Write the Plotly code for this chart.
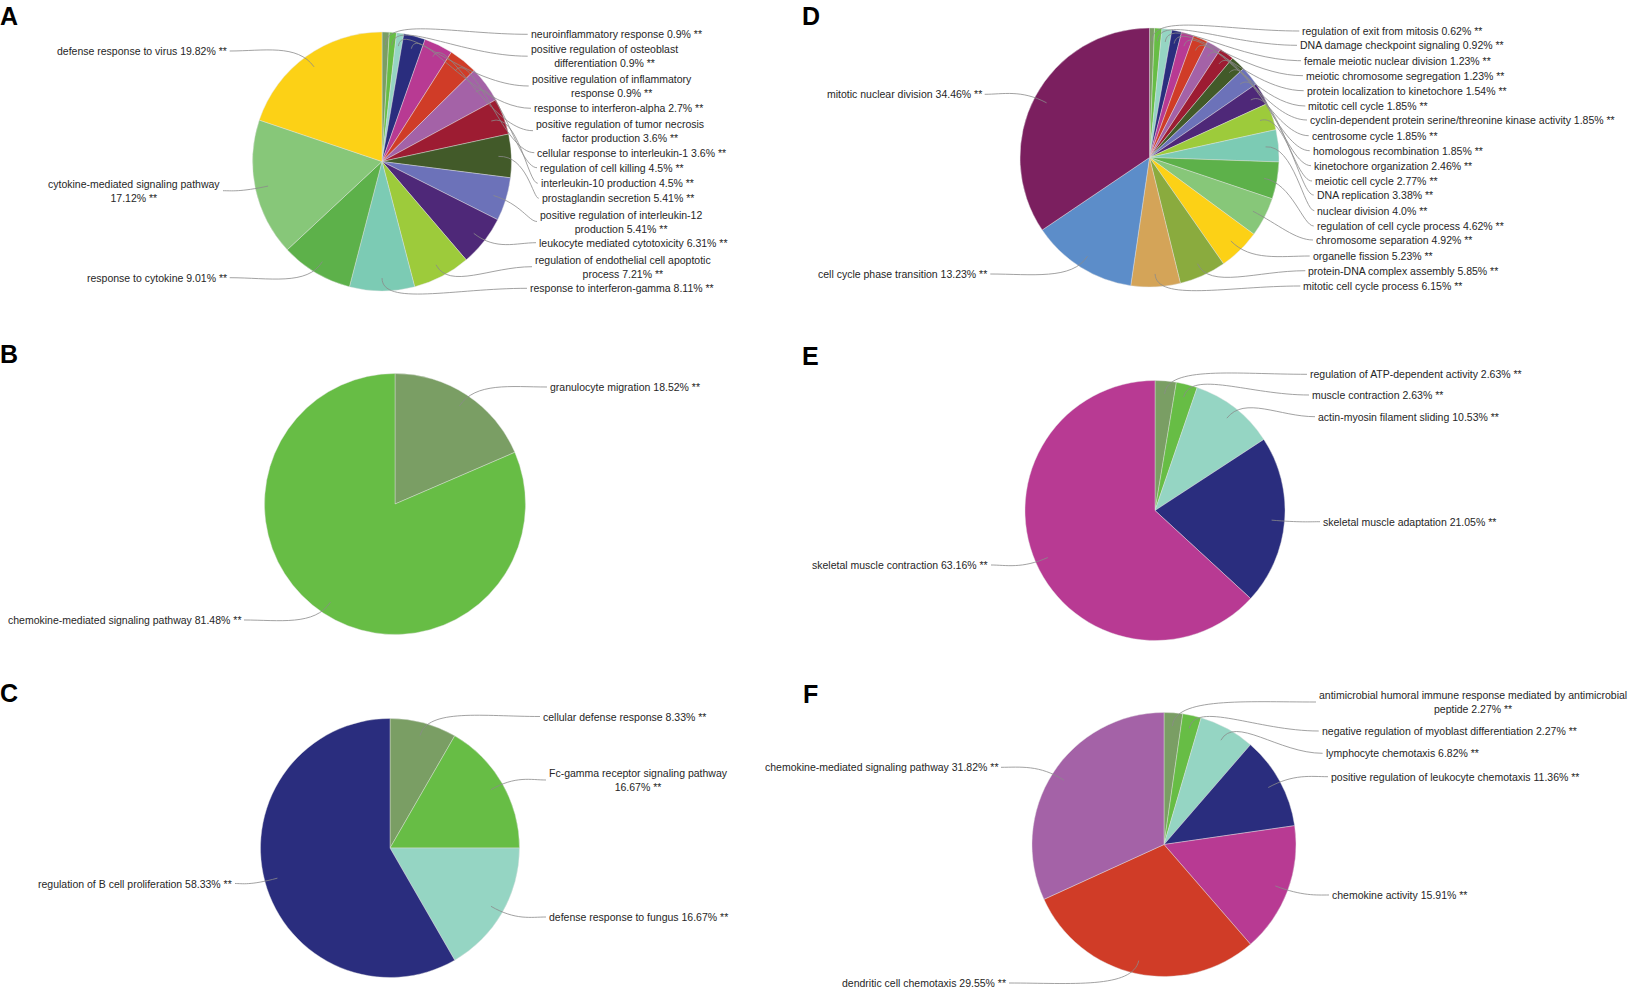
import math
import plotly.graph_objects as go

W, H = 1638, 988

# ---------------- data ----------------
A_terms = ["neuroinflammatory response",
           "positive regulation of osteoblast<br>differentiation",
           "positive regulation of inflammatory<br>response",
           "response to interferon-alpha",
           "positive regulation of tumor necrosis<br>factor production",
           "cellular response to interleukin-1",
           "regulation of cell killing",
           "interleukin-10 production",
           "prostaglandin secretion",
           "positive regulation of interleukin-12<br>production",
           "leukocyte mediated cytotoxicity",
           "regulation of endothelial cell apoptotic<br>process",
           "response to interferon-gamma",
           "response to cytokine",
           "cytokine-mediated signaling pathway<br>",
           "defense response to virus"]
A_pct = [0.9, 0.9, 0.9, 2.7, 3.6, 3.6, 4.5, 4.5, 5.41, 5.41, 6.31, 7.21, 8.11, 9.01, 17.12, 19.82]

B_terms = ["granulocyte migration", "chemokine-mediated signaling pathway"]
B_pct = [18.52, 81.48]

C_terms = ["cellular defense response", "Fc-gamma receptor signaling pathway<br>",
           "defense response to fungus", "regulation of B cell proliferation"]
C_pct = [8.33, 16.67, 16.67, 58.33]

D_terms = ["regulation of exit from mitosis", "DNA damage checkpoint signaling",
           "female meiotic nuclear division", "meiotic chromosome segregation",
           "protein localization to kinetochore", "mitotic cell cycle",
           "cyclin-dependent protein serine/threonine kinase activity", "centrosome cycle",
           "homologous recombination", "kinetochore organization", "meiotic cell cycle",
           "DNA replication", "nuclear division", "regulation of cell cycle process",
           "chromosome separation", "organelle fission", "protein-DNA complex assembly",
           "mitotic cell cycle process", "cell cycle phase transition", "mitotic nuclear division"]
D_pct = [0.62, 0.92, 1.23, 1.23, 1.54, 1.85, 1.85, 1.85, 1.85, 2.46, 2.77, 3.38, 4.0,
         4.62, 4.92, 5.23, 5.85, 6.15, 13.23, 34.46]

E_terms = ["regulation of ATP-dependent activity", "muscle contraction",
           "actin-myosin filament sliding", "skeletal muscle adaptation",
           "skeletal muscle contraction"]
E_pct = [2.63, 2.63, 10.53, 21.05, 63.16]

F_terms = ["antimicrobial humoral immune response mediated by antimicrobial<br>peptide",
           "negative regulation of myoblast differentiation", "lymphocyte chemotaxis",
           "positive regulation of leukocyte chemotaxis", "chemokine activity",
           "dendritic cell chemotaxis", "chemokine-mediated signaling pathway"]
F_pct = [2.27, 2.27, 6.82, 11.36, 15.91, 29.55, 31.82]

palette = ["#7a9e64", "#67bd45", "#95d5c3", "#2a2d7e", "#b83a93", "#d03c27", "#a462a7",
           "#9d1c32", "#425a29", "#6c72b9", "#4e2878", "#9dcb3b", "#7ccbb4", "#5db14a",
           "#87c779", "#fcd116", "#8aab3e", "#d4a458", "#5c8dc9", "#7b1f5f"]

# ---------------- layout (pixel positions) ----------------
# pie centre x, centre y, radius
geom = {
    "A": (382, 161.5, 129.5),
    "B": (395, 504, 130.5),
    "C": (390, 848, 129.5),
    "D": (1149.5, 157.5, 129.5),
    "E": (1155, 510.5, 130),
    "F": (1164, 844.5, 132),
}
# label anchor points: (x, y, side) side R -> text to right of x, L -> text ends at x
label_pos = {
    "A": [(530.7, 34.3, "R"), (530.7, 56.2, "R"), (531.7, 86, "R"), (534, 108.3, "R"),
          (536, 130.7, "R"), (537.3, 152.7, "R"), (540, 167.7, "R"), (540.7, 183.3, "R"),
          (541.7, 198.3, "R"), (540, 221.5, "R"), (539, 242.7, "R"), (535, 266.7, "R"),
          (530, 288.3, "R"), (226.7, 277.7, "L"), (220, 190.7, "L"), (226.7, 51, "L")],
    "B": [(550, 387, "R"), (241, 620, "L")],
    "C": [(543, 716.5, "R"), (549, 780, "R"), (549, 917, "R"), (232, 883.5, "L")],
    "D": [(1302.3, 31, "R"), (1300, 45.3, "R"), (1304, 60.7, "R"), (1306, 75.7, "R"),
          (1306.7, 90.7, "R"), (1308.3, 106, "R"), (1310, 120, "R"), (1311.7, 135.7, "R"),
          (1312.7, 150.7, "R"), (1314, 165.7, "R"), (1315, 181, "R"), (1316.7, 195, "R"),
          (1317.3, 210.7, "R"), (1316.7, 226, "R"), (1316, 240, "R"), (1312.7, 256, "R"),
          (1308.3, 270.7, "R"), (1303.3, 286, "R"), (987.3, 274, "L"), (981.7, 94.3, "L")],
    "E": [(1310, 374.3, "R"), (1312, 395, "R"), (1318, 416.7, "R"), (1323, 521.7, "R"),
          (988, 565, "L")],
    "F": [(1319, 702, "R"), (1321.7, 731, "R"), (1325.6, 753.3, "R"), (1331, 776.7, "R"),
          (1332, 895, "R"), (1006, 983, "L"), (998, 767.3, "L")],
}
letter_pos = {"A": (0, 16), "B": (0, 354), "C": (0, 693), "D": (802, 16), "E": (802, 355.5), "F": (803, 693.5)}

panels = {"A": (A_terms, A_pct), "B": (B_terms, B_pct), "C": (C_terms, C_pct),
          "D": (D_terms, D_pct), "E": (E_terms, E_pct), "F": (F_terms, F_pct)}

FONT = "Liberation Sans, Arial, sans-serif"
TXT = "#262626"
LINE = "#8a8a8a"


def px(x):
    return x / W


def py(y):
    return 1 - y / H


fig = go.Figure()
annotations = []
shapes = []

for key, (terms, pct) in panels.items():
    cx, cy, r = geom[key]
    plain = [t.replace("<br>", " ").strip() for t in terms]
    fig.add_trace(go.Pie(
        labels=plain, values=pct, sort=False, direction="clockwise", rotation=0,
        textinfo="none", hoverinfo="label+value", showlegend=False,
        marker=dict(colors=palette[:len(pct)], line=dict(color="rgba(225,225,225,0.7)", width=0.6)),
        domain=dict(x=[px(cx - r), px(cx + r)], y=[py(cy + r), py(cy - r)]),
    ))
    total = sum(pct)
    cum = 0.0
    for i, (t, v) in enumerate(zip(terms, pct)):
        mid = (cum + v / 2) / total
        cum += v
        th = 2 * math.pi * mid
        dx, dy = math.sin(th), -math.cos(th)
        ax_, ay_ = cx + 0.9 * r * dx, cy + 0.9 * r * dy
        bx, by = cx + 1.12 * r * dx, cy + 1.12 * r * dy
        lx, ly, side = label_pos[key][i]
        sep = "" if t.endswith("<br>") else " "
        text = f"{t}{sep}{v}% **"
        annotations.append(dict(
            x=px(lx), y=py(ly), xref="paper", yref="paper", text=text, showarrow=False,
            xanchor="left" if side == "R" else "right", yanchor="middle", align="center",
            borderpad=0, borderwidth=0, font=dict(family=FONT, size=10.5, color=TXT)))
        ex = lx - 3 if side == "R" else lx + 3
        ey = ly
        c2x = ex - 0.5 * (ex - bx)
        path = (f"M {px(ax_):.5f},{py(ay_):.5f} C {px(bx):.5f},{py(by):.5f} "
                f"{px(c2x):.5f},{py(ey):.5f} {px(ex):.5f},{py(ey):.5f}")
        shapes.append(dict(type="path", path=path, xref="paper", yref="paper",
                           line=dict(color=LINE, width=0.8)))
    lx, ly = letter_pos[key]
    annotations.append(dict(x=px(lx), y=py(ly), xref="paper", yref="paper", text=f"<b>{key}</b>",
                            showarrow=False, xanchor="left", yanchor="middle", borderpad=0,
                            borderwidth=0, font=dict(family=FONT, size=25, color="#000000")))

fig.update_layout(
    width=W, height=H, margin=dict(l=0, r=0, t=0, b=0),
    paper_bgcolor="white", plot_bgcolor="white",
    annotations=annotations, shapes=shapes,
)
fig.write_html("out.html", config={"displayModeBar": False},
               post_script="document.body.style.margin='0px';document.body.style.overflow='hidden';")
